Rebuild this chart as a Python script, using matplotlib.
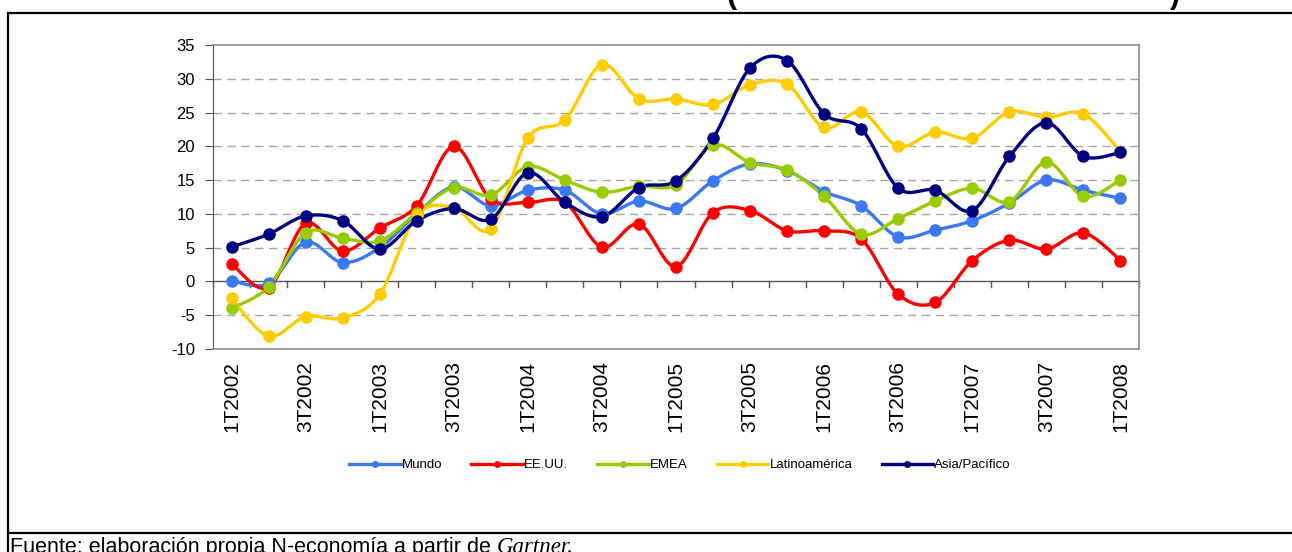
import numpy as np
import matplotlib
matplotlib.use("Agg")
import matplotlib.pyplot as plt
from matplotlib.lines import Line2D

#------------------------------------------------------------------------------------
# Data (quarterly growth, %)
#------------------------------------------------------------------------------------
quarters = [f"{q}T{y}" for y in range(2002, 2009) for q in (1, 2, 3, 4)][:25]
tick_labels = quarters[::2]

mundo = [0.1, -0.3, 5.8, 2.8, 5.0, 10.0, 14.0, 11.2, 13.5, 13.5, 10.0, 11.9, 10.8,
         14.9, 17.4, 16.4, 13.3, 11.2, 6.6, 7.6, 9.0, 11.6, 15.0, 13.5, 12.3]
eeuu = [2.6, -0.9, 8.6, 4.5, 7.9, 11.2, 20.0, 12.2, 11.7, 11.7, 5.1, 8.5, 2.2,
        10.2, 10.5, 7.5, 7.5, 6.3, -1.9, -3.1, 3.1, 6.1, 4.8, 7.2, 3.1]
emea = [-4.0, -0.8, 7.2, 6.4, 6.0, 10.1, 13.9, 12.8, 17.0, 15.0, 13.2, 14.1, 14.3,
        20.2, 17.6, 16.5, 12.6, 7.0, 9.3, 11.9, 13.8, 11.8, 17.7, 12.6, 15.0]
latam = [-2.5, -8.1, -5.2, -5.4, -1.9, 9.8, 10.9, 7.8, 21.2, 23.9, 32.1, 27.0, 27.0,
         26.2, 29.1, 29.2, 22.8, 25.1, 20.0, 22.1, 21.2, 25.1, 24.3, 24.8, 19.2]
asia = [5.1, 7.0, 9.7, 9.0, 4.8, 9.0, 10.8, 9.2, 16.1, 11.7, 9.6, 13.9, 14.9,
        21.2, 31.6, 32.7, 24.8, 22.6, 13.8, 13.5, 10.5, 18.5, 23.5, 18.5, 19.1]

series_names = ["Mundo", "EE.UU.", "EMEA", "Latinoamérica", "Asia/Pacífico"]
series_values = [mundo, eeuu, emea, latam, asia]
colors = ["#3B78F5", "#FF0000", "#99CC00", "#FFCC00", "#000080"]


def smooth(x, y, n=20):
    # Excel-like smoothed line (Catmull-Rom as cubic Bezier)
    x = np.asarray(x, float)
    y = np.asarray(y, float)
    px = np.concatenate([[x[0]], x, [x[-1]]])
    py = np.concatenate([[y[0]], y, [y[-1]]])
    t = np.linspace(0, 1, n)[:, None]
    xs, ys = [], []
    for i in range(1, len(x)):
        p0 = np.array([px[i], py[i]])
        p3 = np.array([px[i + 1], py[i + 1]])
        c1 = p0 + (p3 - np.array([px[i - 1], py[i - 1]])) / 6
        c2 = p3 - (np.array([px[i + 2], py[i + 2]]) - p0) / 6
        pts = ((1 - t) ** 3) * p0 + 3 * ((1 - t) ** 2) * t * c1 + 3 * (1 - t) * t ** 2 * c2 + t ** 3 * p3
        xs.append(pts[:, 0])
        ys.append(pts[:, 1])
    return np.concatenate(xs), np.concatenate(ys)


plt.rcParams['font.family'] = ['Liberation Sans', 'DejaVu Sans']
plt.rcParams['axes.unicode_minus'] = False

fig = plt.figure(figsize=(12.92, 5.52), dpi=100)

#------------------------------------------------------------------------------------
# Outer frame and cut-off title
#------------------------------------------------------------------------------------
frame_l, frame_t, frame_b = 8 / 1292, 1 - 13 / 552, 1 - 533 / 552
fig.add_artist(Line2D([frame_l, 1.0], [frame_t, frame_t], color='black', lw=1.6))
fig.add_artist(Line2D([frame_l, frame_l], [0, frame_t], color='black', lw=1.6))
fig.add_artist(Line2D([frame_l, 1.0], [frame_b, frame_b], color='black', lw=1.6))
fig.text(732 / 1292, 1 - 3 / 552, "(", fontsize=22, fontweight='bold', va='baseline', ha='center')
fig.text(1175 / 1292, 1 - 3 / 552, ")", fontsize=22, fontweight='bold', va='baseline', ha='center')

#------------------------------------------------------------------------------------
# Chart
#------------------------------------------------------------------------------------
ax = fig.add_axes([213 / 1292, 1 - 349 / 552, (1139 - 213) / 1292, (349 - 45) / 552])
x = np.arange(len(quarters))

for yv in range(-5, 35, 5):
    if yv != 0:
        ax.axhline(yv, color='#A6A6A6', lw=1.0, dashes=(6, 4), zorder=1)
ax.axhline(0, color='#555555', lw=1.0, zorder=2)
for b in np.arange(-0.5, 25, 1):
    ax.plot([b, b], [0, -0.75], color='#555555', lw=1.0, zorder=2, clip_on=False)

for name, vals, col in zip(series_names, series_values, colors):
    sx, sy = smooth(x, vals)
    ax.plot(sx, sy, color=col, lw=2.4, zorder=3, solid_capstyle='round')
    ax.plot(x, vals, 'o', color=col, ms=8, zorder=4, label=name)

ax.set_xlim(-0.5, 24.5)
ax.set_ylim(-10, 35)
ax.set_yticks(range(-10, 40, 5))
ax.set_xticks(x[::2])
ax.set_xticklabels(tick_labels, rotation=90, fontsize=15)
ax.tick_params(axis='x', length=0, pad=9)
ax.tick_params(axis='y', labelsize=12, length=6, color='#555555', pad=7)

for side in ['top', 'right', 'bottom']:
    ax.spines[side].set_color('#8C8C8C')
    ax.spines[side].set_linewidth(1.2)
ax.spines['left'].set_color('#555555')

# legend with line + small dot
handles = [Line2D([0], [0], color=c, lw=2.4, marker='o', ms=4) for c in colors]
fig.legend(handles, series_names, loc='center', bbox_to_anchor=(680 / 1292, 1 - 465 / 552),
           ncol=5, frameon=False, fontsize=9.5, handlelength=3.9, handletextpad=0.1,
           columnspacing=2.2)

#------------------------------------------------------------------------------------
# Source note (partly cut at bottom)
#------------------------------------------------------------------------------------
src = fig.text(10 / 1292, 1 - 553 / 552, "Fuente: elaboración propia N-economía a partir de ",
               fontsize=15.5, va='baseline', ha='left')
fig.canvas.draw()
bb = src.get_window_extent()
fig.text(bb.x1 / 1292, 1 - 553 / 552, "Gartner.", fontsize=16.5, va='baseline', ha='left',
         family=['Liberation Serif', 'DejaVu Serif'], style='italic')

plt.savefig("out.png", dpi=100)
